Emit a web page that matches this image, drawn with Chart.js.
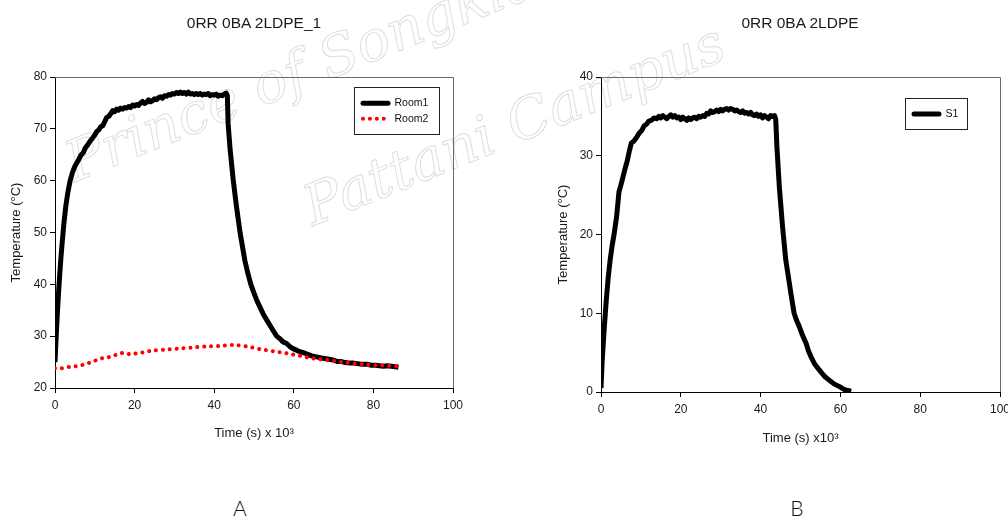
<!DOCTYPE html>
<html>
<head>
<meta charset="utf-8">
<title>Temperature vs time</title>
<script src="https://cdn.jsdelivr.net/npm/chart.js@4.4.1/dist/chart.umd.min.js"></script>
<style>
  html, body { margin: 0; padding: 0; background: #fff; }
  body { position: relative; width: 1008px; height: 518px; overflow: hidden; }
  #stamp { position: absolute; left: 0; top: 0; }
  canvas { position: absolute; top: 0; }
  #chartA { left: 0; }
  #chartB { left: 504px; }
  .caption { position: absolute; transform: translate(-50%, -50%); white-space: nowrap; color: #1a1a1a; }
  .title { font-family: 'Liberation Sans', Arial, sans-serif; font-size: 15.5px; }
  .panel { font-family: Lato, 'DejaVu Sans', sans-serif; font-weight: 300; font-size: 21px; color: #111; }
</style>
</head>
<body>
<svg id="stamp" width="1008" height="518">
  <g font-family="'DejaVu Serif', serif" font-style="italic" font-size="56" fill="none" stroke="#dedede" stroke-width="1">
    <text transform="translate(75,182) rotate(-22)">Prince of Songkla University</text>
    <text transform="translate(313,226) rotate(-22)">Pattani Campus</text>
  </g>
</svg>
<canvas id="chartA" width="504" height="470"></canvas>
<canvas id="chartB" width="540" height="470"></canvas>
<div class="caption title" style="left:254px; top:23px">0RR 0BA 2LDPE_1</div>
<div class="caption title" style="left:800px; top:23px">0RR 0BA 2LDPE</div>
<div class="caption panel" style="left:240px; top:507px">A</div>
<div class="caption panel" style="left:797px; top:507px">B</div>
<script>
// time in thousands of seconds, temperature in degC
const room1Time = [0, 0.3, 0.6, 0.9, 1.2, 1.5, 1.8, 2.2, 2.7, 3.2, 3.8, 4.4, 5.0, 5.9, 6.5, 7.1, 7.6, 8.2,
  8.8, 9.4, 10.0, 10.5, 11.0, 11.5, 12.0, 12.5, 13.0, 13.5, 14.0, 14.5, 15.0, 15.5, 16.0, 16.5, 17.0, 17.5, 18.0, 18.5,
  19.0, 19.5, 20.0, 20.5, 21.0, 21.5, 22.0, 22.5, 23.0, 23.5, 24.0, 24.5, 25.0, 25.5, 26.0, 26.5, 27.0, 27.5, 28.0, 28.5,
  29.0, 29.5, 30.0, 30.5, 31.0, 31.5, 32.0, 32.5, 33.0, 33.5, 34.0, 34.5, 35.0, 35.5, 36.0, 36.5, 37.0, 37.5, 38.0, 38.5,
  39.0, 39.5, 40.0, 40.5, 41.0, 41.5, 42.0, 42.5, 43.0, 43.3, 43.5, 44.0, 44.8, 45.6, 46.5, 47.7, 48.5, 49.2, 50.0, 50.7,
  51.5, 52.3, 53.2, 54.0, 54.8, 55.7, 56.5, 57.3, 58.2, 59.0, 59.8, 60.7, 61.5, 62.5, 63.5, 64.5, 65.7, 67.0, 68.5, 69.9,
  71.0, 72.0, 73.0, 74.0, 75.0, 76.0, 77.0, 78.3, 79.5, 80.5, 81.5, 82.5, 83.5, 84.5, 85.5, 86.3];
const room1Temp = [25, 30, 34.5, 38.5, 42, 45.2, 48, 51.5, 55, 57.6, 60, 61.6, 62.8, 64, 64.9, 65.4, 66.3, 66.9,
  67.6, 68.2, 68.8, 69.5, 69.8, 70.4, 70.6, 71.4, 72.2, 72.4, 72.9, 73.5, 73.3, 73.8, 73.6, 74.0, 73.8, 74.1, 74.0, 74.3,
  74.1, 74.6, 74.4, 74.7, 74.5, 75.0, 75.3, 74.9, 75.1, 75.6, 75.2, 75.4, 75.8, 75.6, 76.0, 76.2, 75.9, 76.4, 76.3, 76.6,
  76.5, 76.8, 76.7, 77.0, 76.8, 77.1, 76.8, 77.0, 76.7, 77.1, 76.7, 76.8, 76.6, 76.8, 76.6, 76.8, 76.5, 76.7, 76.6, 76.8,
  76.4, 76.6, 76.5, 76.7, 76.3, 76.5, 76.4, 76.7, 76.9, 76.4, 71.0, 66.0, 60.0, 55.0, 50.0, 44.6, 42.0, 40.0, 38.3, 36.9,
  35.6, 34.3, 33.1, 32.1, 31.1, 30.0, 29.5, 28.9, 28.6, 28.0, 27.6, 27.3, 27.0, 26.8, 26.5, 26.2, 26.0, 25.8, 25.6, 25.4,
  25.1, 25.1, 24.9, 24.8, 24.8, 24.7, 24.6, 24.6, 24.4, 24.4, 24.3, 24.2, 24.3, 24.2, 24.1, 24.0];

const room2Time = [0, 1.7, 3.8, 5.4, 7.1, 8.8, 10.5, 12.1, 13.8, 15.7, 17.3, 19.0, 20.5, 22.3, 24.3, 27.6, 31.0, 34.3,
  37.7, 41.3, 44.8, 48.2, 51.5, 54.8, 58.2, 61.6, 64.9, 68.3, 73.3, 78.3, 86.3];
const room2Temp = [23.8, 23.8, 24.1, 24.2, 24.5, 24.9, 25.4, 25.8, 26.0, 26.5, 26.8, 26.5, 26.7, 26.9, 27.2, 27.4, 27.6, 27.8,
  28.0, 28.1, 28.3, 28.0, 27.5, 27.1, 26.7, 26.2, 25.7, 25.4, 24.9, 24.5, 24.2];

const s1Time = [0, 0.3, 0.8, 1.3, 1.8, 2.3, 2.8, 3.3, 3.9, 4.5, 5.0, 5.5, 6.0, 6.6, 7.1, 7.6, 8.3, 9.0, 9.6, 10.2,
  10.8, 11.4, 12.0, 12.6, 13.3, 14.0, 14.5, 15.0, 15.5, 16.0, 16.5, 17.0, 17.5, 18.0, 18.5, 19.0, 19.5, 20.0, 20.5, 21.0,
  21.5, 22.0, 22.5, 23.0, 23.5, 24.0, 24.5, 25.0, 25.5, 26.0, 26.5, 27.0, 27.5, 28.0, 28.5, 29.0, 29.5, 30.0, 30.5, 31.0,
  31.5, 32.0, 32.5, 33.0, 33.5, 34.0, 34.5, 35.0, 35.5, 36.0, 36.5, 37.0, 37.5, 38.0, 38.5, 39.0, 39.5, 40.0, 40.5, 41.0,
  41.5, 42.0, 42.5, 43.0, 43.5, 43.8, 44.1, 44.7, 45.5, 46.3, 47.0, 47.6, 48.4, 49.0, 49.7, 50.5, 51.4, 52.0, 52.6, 53.5,
  54.7, 56.0, 57.2, 58.5, 59.7, 61.0, 62.7];
const s1Temp = [0.5, 4, 8, 11.5, 14.5, 16.8, 18.6, 20.1, 22.2, 25.4, 26.3, 27.3, 28.3, 29.4, 30.6, 31.6, 31.9, 32.4, 32.9, 33.2,
  33.8, 34.0, 34.4, 34.5, 34.8, 34.7, 35.0, 34.8, 35.1, 34.9, 34.7, 35.0, 35.2, 34.9, 35.1, 34.8, 34.9, 34.6, 34.9, 34.7,
  34.5, 34.8, 34.6, 34.8, 34.9, 34.7, 35.0, 34.9, 35.1, 35.0, 35.4, 35.3, 35.7, 35.5, 35.6, 35.8, 35.6, 35.9, 35.7, 35.9,
  36.0, 35.8, 36.0, 35.9, 35.7, 35.8, 35.6, 35.5, 35.7, 35.4, 35.5, 35.3, 35.5, 35.2, 35.1, 35.3, 35.0, 35.2, 34.8, 35.1,
  34.9, 34.7, 35.1, 35.0, 35.1, 34.6, 31.0, 26.0, 21.0, 16.8, 14.5, 12.5, 10.0, 9.1, 8.3, 7.2, 6.2, 5.2, 4.5, 3.6,
  2.8, 2.0, 1.5, 1.0, 0.7, 0.3, 0.1];

const pairs = (xs, ys) => xs.map((x, i) => ({ x, y: ys[i] }));

const tickFont = { family: "'Liberation Sans', Arial, sans-serif", size: 12 };
const titleFont = { family: "'Liberation Sans', Arial, sans-serif", size: 13 };
const ink = '#1a1a1a';

// thin gray line along the top and right of the plot area
const plotFrame = {
  id: 'plotFrame',
  beforeDatasetsDraw(chart, args, opts) {
    const { ctx, chartArea: { left, top, right, bottom } } = chart;
    const t = Math.round(top) + 0.5;
    const r = Math.round(right) + 0.5;
    ctx.save();
    ctx.strokeStyle = opts.color;
    ctx.lineWidth = 1;
    ctx.beginPath();
    ctx.moveTo(left, t);
    ctx.lineTo(r, t);
    ctx.lineTo(r, bottom);
    ctx.stroke();
    ctx.restore();
  }
};

// boxed legend sitting inside the plot area
const insetLegend = {
  id: 'insetLegend',
  afterDatasetsDraw(chart, args, opts) {
    const { ctx, chartArea } = chart;
    const sets = chart.data.datasets;
    const left = Math.round(chartArea.left + opts.x) + 0.5;
    const top = Math.round(chartArea.top + opts.y) + 0.5;
    const first = (opts.height - (sets.length - 1) * opts.rowHeight) / 2;
    ctx.save();
    ctx.fillStyle = '#fff';
    ctx.fillRect(left, top, opts.width, opts.height);
    ctx.strokeStyle = '#222';
    ctx.lineWidth = 1;
    ctx.strokeRect(left, top, opts.width, opts.height);
    sets.forEach((ds, i) => {
      const y = top + first + i * opts.rowHeight;
      ctx.beginPath();
      ctx.setLineDash(ds.borderDash || []);
      ctx.lineCap = 'round';
      ctx.strokeStyle = ds.borderColor;
      ctx.lineWidth = ds.borderWidth;
      ctx.moveTo(left + 8.5, y);
      ctx.lineTo(left + 33.5, y);
      ctx.stroke();
      ctx.setLineDash([]);
      ctx.fillStyle = '#111';
      ctx.font = "10.5px 'Liberation Sans', Arial, sans-serif";
      ctx.textBaseline = 'middle';
      ctx.fillText(ds.label, left + 40, y);
    });
    ctx.restore();
  }
};

function axis(extra) {
  return Object.assign({
    type: 'linear',
    grid: { drawOnChartArea: false, drawTicks: true, tickLength: 5, tickColor: '#000', tickWidth: 1 },
    border: { display: true, color: '#000', width: 1 }
  }, extra);
}

function makeOptions(cfg) {
  return {
    responsive: false,
    animation: false,
    events: [],
    layout: { padding: cfg.padding },
    plugins: {
      legend: { display: false },
      tooltip: { enabled: false },
      plotFrame: { color: '#6b6b6b' },
      insetLegend: cfg.legend
    },
    scales: {
      x: axis({
        min: 0, max: 100,
        ticks: { stepSize: 20, padding: 5, color: ink, font: tickFont, maxRotation: 0 },
        title: { display: true, text: cfg.xTitle, color: ink, font: titleFont, padding: { top: 0, bottom: cfg.xTitlePad } },
        afterFit: s => { s.height = 60; }
      }),
      y: axis({
        min: cfg.yMin, max: cfg.yMax,
        ticks: { stepSize: 10, padding: 3, color: ink, font: tickFont },
        title: { display: true, text: 'Temperature (°C)', color: ink, font: titleFont, padding: { top: 9, bottom: 0 } },
        afterFit: s => { s.width = cfg.yWidth; }
      })
    }
  };
}

new Chart(document.getElementById('chartA'), {
  type: 'line',
  data: {
    datasets: [
      {
        label: 'Room1', data: pairs(room1Time, room1Temp), order: 1,
        borderColor: '#000', borderWidth: 5, borderJoinStyle: 'round', pointRadius: 0, tension: 0
      },
      {
        label: 'Room2', data: pairs(room2Time, room2Temp), order: 0,
        borderColor: '#ff0000', borderWidth: 4, borderDash: [0.01, 6.9], borderCapStyle: 'round',
        pointRadius: 0, tension: 0.3
      }
    ]
  },
  options: makeOptions({
    padding: { left: 0, right: 51, top: 77, bottom: 22 },
    yMin: 20, yMax: 80, yWidth: 55,
    xTitle: 'Time (s) x 10³', xTitlePad: 7,
    legend: { x: 299, y: 10, width: 85, height: 47, rowHeight: 15.5 }
  }),
  plugins: [plotFrame, insetLegend]
});

new Chart(document.getElementById('chartB'), {
  type: 'line',
  data: {
    datasets: [
      {
        label: 'S1', data: pairs(s1Time, s1Temp),
        borderColor: '#000', borderWidth: 5, borderJoinStyle: 'round', pointRadius: 0, tension: 0
      }
    ]
  },
  options: makeOptions({
    padding: { left: 43, right: 44, top: 77, bottom: 18 },
    yMin: 0, yMax: 40, yWidth: 54,
    xTitle: 'Time (s) x10³', xTitlePad: 6,
    legend: { x: 304, y: 21, width: 62, height: 31, rowHeight: 15.5 }
  }),
  plugins: [plotFrame, insetLegend]
});
</script>
</body>
</html>
